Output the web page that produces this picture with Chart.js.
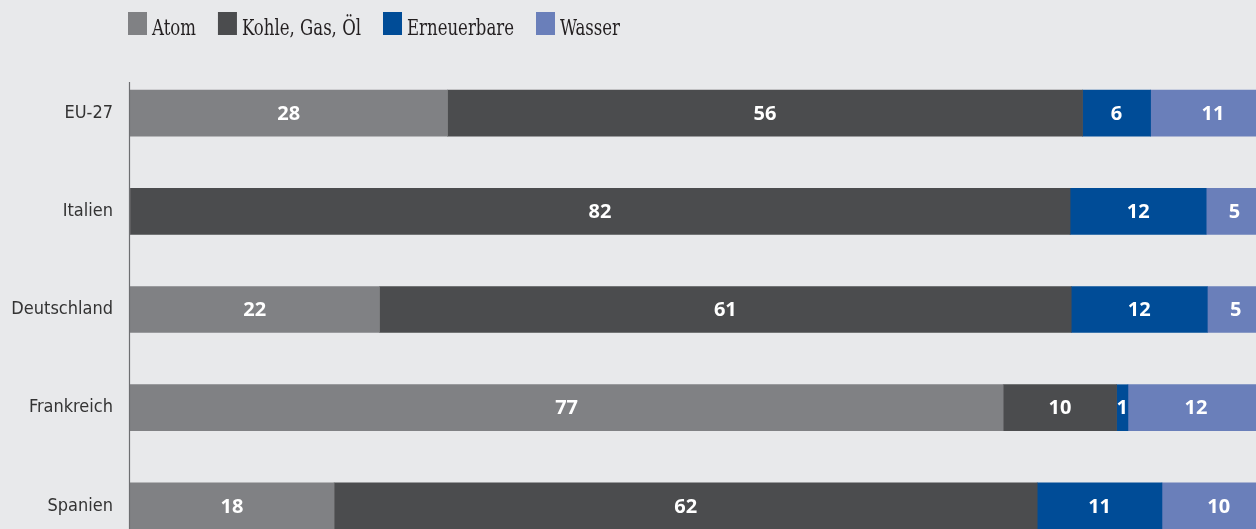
<!DOCTYPE html>
<html><head><meta charset="utf-8">
<script src="https://cdn.jsdelivr.net/npm/chart.js@4"></script>
<style>
html,body{margin:0;padding:0;background:#e8e9eb;overflow:hidden;}
#wrap{width:1256px;height:529px;overflow:hidden;position:relative;background:#e8e9eb;}
#c{position:absolute;left:0;top:0;width:1264px;height:555px;}
</style></head><body>
<div id="wrap"><canvas id="c" width="1264" height="555"></canvas></div>
<script>
const categories = ['EU-27', 'Italien', 'Deutschland', 'Frankreich', 'Spanien'];
const seriesNames = ['Atom', 'Kohle, Gas, Öl', 'Erneuerbare', 'Wasser'];
const atom = [28, 0, 22, 77, 18];
const kohleGasOel = [56, 82.9, 61, 10, 62];
const erneuerbare = [6, 12, 12, 1, 11];
const wasser = [11, 5, 5, 12, 10];
const seriesColors = ['#808184', '#4b4c4e', '#004c97', '#6a7fba'];

const seriesValues = [atom, kohleGasOel, erneuerbare, wasser];

const overlay = {
  id: 'overlay',
  afterDatasetsDraw(chart) {
    const ctx = chart.ctx;
    const area = chart.chartArea;
    ctx.save();
    // data labels
    ctx.font = 'bold 20px "Open Sans"';
    ctx.fillStyle = '#ffffff';
    ctx.textAlign = 'center';
    ctx.textBaseline = 'middle';
    chart.data.datasets.forEach((ds, i) => {
      const meta = chart.getDatasetMeta(i);
      meta.data.forEach((el, j) => {
        const v = ds.data[j];
        if (!v) return;
        const cx = (el.x + el.base) / 2;
        ctx.fillText(String(Math.floor(v)), cx, el.y + 1);
      });
    });
    // axis line
    const first = chart.getDatasetMeta(0).data[0];
    const top = first.y - first.height / 2 - 8;
    ctx.strokeStyle = '#6d6e71';
    ctx.lineWidth = 1.2;
    ctx.beginPath();
    ctx.moveTo(area.left - 0.5, top);
    ctx.lineTo(area.left - 0.5, area.bottom);
    ctx.stroke();
    // legend
    const squeeze = 0.8;
    ctx.font = '23px "DejaVu Serif Condensed", "DejaVu Serif"';
    ctx.textAlign = 'left';
    ctx.textBaseline = 'alphabetic';
    let x = area.left - 2;
    chart.data.datasets.forEach((ds) => {
      ctx.fillStyle = ds.backgroundColor;
      ctx.fillRect(x, 12, 19, 23);
      x += 19 + 5;
      ctx.fillStyle = '#231f20';
      ctx.save();
      ctx.translate(x, 35);
      ctx.scale(squeeze, 1);
      ctx.fillText(ds.label, 0, 0);
      ctx.restore();
      x += ctx.measureText(ds.label).width * squeeze + 22;
    });
    ctx.restore();
  }
};

new Chart(document.getElementById('c'), {
  type: 'bar',
  data: {
    labels: categories,
    datasets: seriesNames.map((name, i) => ({
      label: name,
      data: seriesValues[i],
      backgroundColor: seriesColors[i],
      borderWidth: 0,
      barThickness: 46
    }))
  },
  options: {
    indexAxis: 'y',
    responsive: false,
    maintainAspectRatio: false,
    animation: false,
    layout: { padding: { top: 64, left: 0, right: 0, bottom: 0 } },
    plugins: { legend: { display: false }, tooltip: { enabled: false } },
    scales: {
      x: {
        stacked: true, min: 0, max: 100,
        display: false
      },
      y: {
        stacked: true,
        grid: { display: false, drawTicks: false },
        border: { display: false },
        ticks: { color: '#333333', padding: 17, font: { family: '"DejaVu Sans Condensed", "DejaVu Sans"', size: 18 } },
        afterFit(scale) {
          scale.width = 130;
          scale.paddingTop = 0;
          scale.paddingBottom = 0;
        }
      }
    }
  },
  plugins: [overlay]
});
</script>
</body></html>
